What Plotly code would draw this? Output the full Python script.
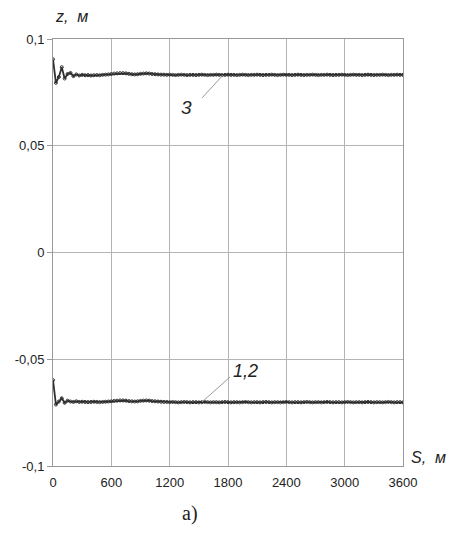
import plotly.graph_objects as go

# distance along route, m (step 30 m)
S = [i * 30 for i in range(121)]

# curve 3
z3 = [0.0905, 0.0795, 0.0822, 0.0868, 0.0815, 0.0836, 0.0841, 0.0826, 0.0834, 0.0829,
      0.0832, 0.0830, 0.0831, 0.0829, 0.0830, 0.0831, 0.0830, 0.0832, 0.0833, 0.0834,
      0.0836, 0.0838, 0.0839, 0.0840, 0.0840, 0.0839, 0.0837, 0.0835, 0.0834, 0.0835,
      0.0837, 0.0838, 0.0839, 0.0838, 0.0836, 0.0835, 0.0834, 0.0833, 0.0833, 0.0832,
      0.0833, 0.0832, 0.0831, 0.0832, 0.0833, 0.0832, 0.0831, 0.0832, 0.0832, 0.0831,
      0.0832, 0.0833, 0.0832, 0.0831, 0.0832, 0.0832, 0.0833, 0.0832, 0.0831, 0.0832,
      0.0833, 0.0832, 0.0832, 0.0831, 0.0832, 0.0833, 0.0832, 0.0831, 0.0832, 0.0832,
      0.0833, 0.0832, 0.0831, 0.0832, 0.0832, 0.0833, 0.0832, 0.0831, 0.0832, 0.0833,
      0.0832, 0.0832, 0.0831, 0.0832, 0.0833, 0.0832, 0.0831, 0.0832, 0.0832, 0.0833,
      0.0832, 0.0831, 0.0832, 0.0832, 0.0833, 0.0832, 0.0831, 0.0832, 0.0832, 0.0833,
      0.0832, 0.0831, 0.0832, 0.0833, 0.0832, 0.0832, 0.0831, 0.0832, 0.0833, 0.0832,
      0.0831, 0.0832, 0.0832, 0.0833, 0.0832, 0.0831, 0.0832, 0.0832, 0.0833, 0.0832,
      0.0832]

# curves 1,2
z12 = [-0.0598, -0.0712, -0.0698, -0.0683, -0.0704, -0.0694, -0.0698, -0.0700, -0.0697, -0.0700,
       -0.0699, -0.0700, -0.0701, -0.0700, -0.0699, -0.0700, -0.0701, -0.0700, -0.0699, -0.0698,
       -0.0697, -0.0695, -0.0694, -0.0693, -0.0693, -0.0694, -0.0696, -0.0697, -0.0698, -0.0697,
       -0.0695, -0.0694, -0.0693, -0.0694, -0.0696, -0.0697, -0.0698, -0.0699, -0.0700, -0.0700,
       -0.0701, -0.0700, -0.0701, -0.0702, -0.0701, -0.0700, -0.0701, -0.0702, -0.0701, -0.0701,
       -0.0702, -0.0701, -0.0700, -0.0701, -0.0702, -0.0701, -0.0701, -0.0702, -0.0701, -0.0700,
       -0.0701, -0.0702, -0.0701, -0.0701, -0.0702, -0.0701, -0.0700, -0.0701, -0.0702, -0.0701,
       -0.0701, -0.0702, -0.0701, -0.0700, -0.0701, -0.0702, -0.0701, -0.0701, -0.0702, -0.0701,
       -0.0700, -0.0701, -0.0702, -0.0701, -0.0701, -0.0702, -0.0701, -0.0700, -0.0701, -0.0702,
       -0.0701, -0.0701, -0.0702, -0.0701, -0.0700, -0.0701, -0.0702, -0.0701, -0.0701, -0.0702,
       -0.0701, -0.0700, -0.0701, -0.0702, -0.0701, -0.0701, -0.0702, -0.0701, -0.0700, -0.0701,
       -0.0702, -0.0701, -0.0701, -0.0702, -0.0701, -0.0700, -0.0701, -0.0702, -0.0701, -0.0701,
       -0.0702]

x_ticks = [0, 600, 1200, 1800, 2400, 3000, 3600]
y_ticks = [-0.1, -0.05, 0, 0.05, 0.1]
y_tick_text = ["-0,1", "-0,05", "0", "0,05", "0,1"]

line_col = "#2e2e2e"
grid_col = "#b4b4b4"
text_col = "#222222"

fig = go.Figure()
for z in (z3, z12):
    fig.add_trace(go.Scatter(
        x=S, y=z, mode="lines+markers",
        line=dict(color=line_col, width=1.8),
        marker=dict(symbol="circle-open", size=3, color=line_col, line=dict(width=1)),
        showlegend=False, hoverinfo="skip"))

# page body has an 8px default margin, so the figure is shifted accordingly
fig.update_layout(
    width=452, height=528,
    margin=dict(l=45, r=57, t=31, b=70),
    paper_bgcolor="white", plot_bgcolor="white",
    font=dict(family="Liberation Sans, Arial, sans-serif", size=13, color=text_col),
)
fig.update_xaxes(
    range=[0, 3600], tickvals=x_ticks, ticktext=[str(v) for v in x_ticks],
    showgrid=True, gridcolor=grid_col, gridwidth=1,
    showline=True, linecolor="#999999", linewidth=1, mirror=True,
    ticks="", zeroline=False, automargin=False, ticklabelstandoff=4,
    tickfont=dict(size=13, color=text_col),
)
fig.update_yaxes(
    range=[-0.1, 0.1], tickvals=y_ticks, ticktext=y_tick_text,
    showgrid=True, gridcolor=grid_col, gridwidth=1,
    showline=True, linecolor="#999999", linewidth=1, mirror=True,
    ticks="outside", ticklen=5, tickcolor="#999999",
    zeroline=False, automargin=False,
    tickfont=dict(size=13, color=text_col),
)

# leader lines
fig.add_shape(type="line", x0=1533, y0=0.0724, x1=1749, y1=0.0831,
              line=dict(color="#999999", width=1))
fig.add_shape(type="line", x0=1533, y0=-0.0700, x1=1821, y1=-0.0583,
              line=dict(color="#999999", width=1))

fig.add_annotation(x=1378, y=0.068, text="<i>3</i>", showarrow=False,
                   font=dict(size=19, color=text_col))
fig.add_annotation(x=1975, y=-0.0555, text="<i>1,2</i>", showarrow=False,
                   font=dict(size=18, color=text_col))

fig.add_annotation(xref="paper", yref="paper", x=0.0, y=1.0, yshift=23,
                   xanchor="left", yanchor="middle", text="<i>z,  м</i>", showarrow=False,
                   font=dict(size=16, color=text_col))
fig.add_annotation(xref="paper", yref="paper", x=1.0, xshift=6, y=0.02, yshift=0,
                   xanchor="left", yanchor="middle", text="<i>S,  м</i>", showarrow=False,
                   font=dict(size=16, color=text_col))
fig.add_annotation(xref="paper", yref="paper", x=0.39, y=0, yshift=-47,
                   xanchor="center", yanchor="middle", text="a)", showarrow=False,
                   font=dict(family="Liberation Serif, Times New Roman, serif", size=20, color="#222222"))

fig.write_html("out.html")
